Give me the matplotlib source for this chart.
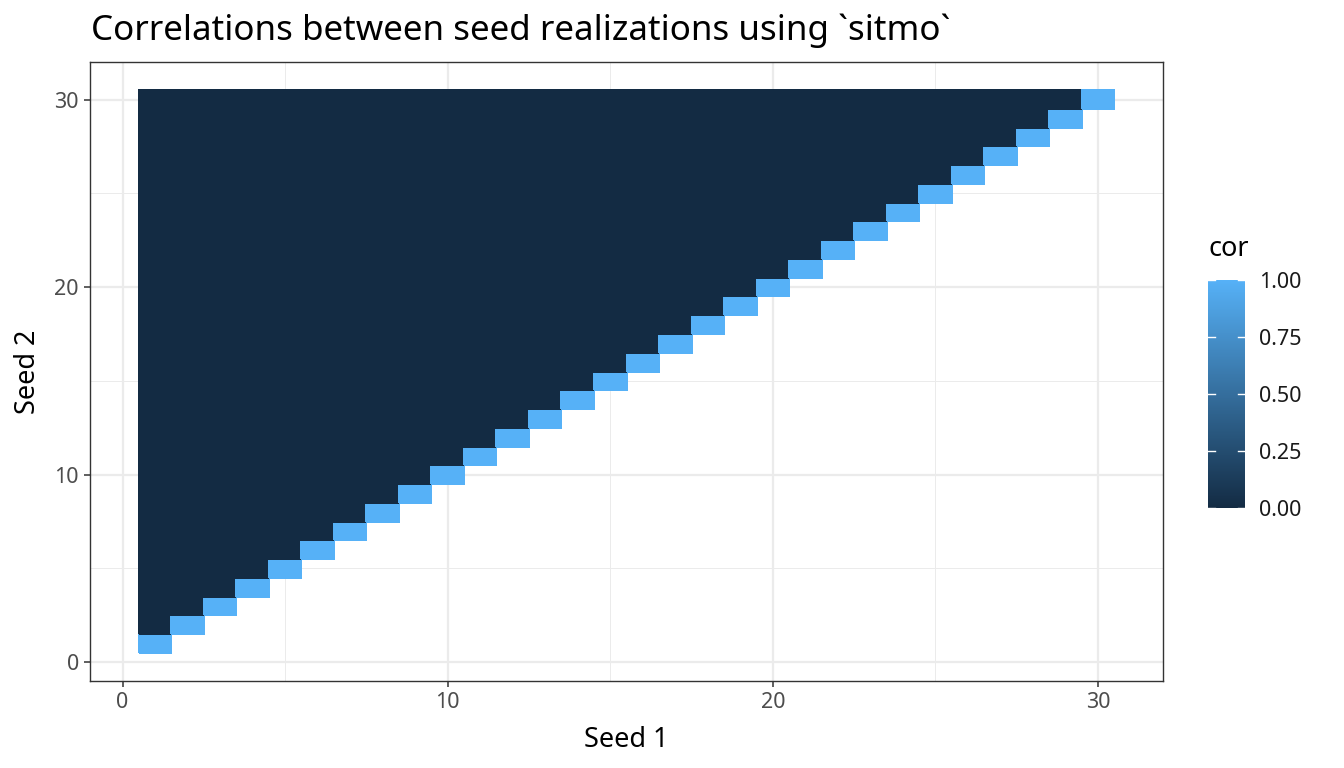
import numpy as np
import matplotlib
matplotlib.use("Agg")
import matplotlib.pyplot as plt
from matplotlib.colors import LinearSegmentedColormap

plt.rcParams['font.family'] = ['Noto Sans', 'DejaVu Sans']

# Data
seeds = list(range(1, 31))
diag_cor = 1.0        # correlation of a seed with itself
off_diag_cor = 0.0    # correlations between distinct seeds (all ~0)
title = "Correlations between seed realizations using `sitmo`"
x_ticks = [0, 10, 20, 30]
y_ticks = [0, 10, 20, 30]
cbar_ticks = [0.0, 0.25, 0.5, 0.75, 1.0]
cbar_labels = ["0.00", "0.25", "0.50", "0.75", "1.00"]

n = len(seeds)
mat = np.full((n, n), np.nan)
for i, s1 in enumerate(seeds):
    for j, s2 in enumerate(seeds):
        if s2 > s1:
            mat[j, i] = off_diag_cor
        elif s2 == s1:
            mat[j, i] = diag_cor
mat = np.ma.masked_invalid(mat)

W, H = 1344, 768
fig = plt.figure(figsize=(W/100, H/100), dpi=100)

def px(l, t, r, b):
    return [l/W, 1 - b/H, (r-l)/W, (b-t)/H]

ax = fig.add_axes(px(90, 62, 1163, 681))
cmap = LinearSegmentedColormap.from_list("gg", ["#132B43", "#56B1F7"])

# grid
for v in [5, 15, 25]:
    ax.axvline(v, color="#EBEBEB", lw=0.7, zorder=0)
    ax.axhline(v, color="#EBEBEB", lw=0.7, zorder=0)
for v in x_ticks:
    ax.axvline(v, color="#EBEBEB", lw=1.6, zorder=0)
for v in y_ticks:
    ax.axhline(v, color="#EBEBEB", lw=1.6, zorder=0)

edges = np.arange(0.5, n + 1.0, 1.0)
mesh = ax.pcolormesh(edges, edges, mat, cmap=cmap, vmin=0, vmax=1, zorder=1,
                     edgecolors='face', linewidth=0.3, antialiased=False)

ax.set_xlim(-1.0, 32.0)
ax.set_ylim(-1.0, 32.0)
ax.set_xticks(x_ticks)
ax.set_yticks(y_ticks)
ax.tick_params(axis='both', colors='#333333', labelcolor='#4D4D4D',
               labelsize=15.5, length=4, width=1.1, pad=4)
for sp in ax.spines.values():
    sp.set_color('#333333')
    sp.set_linewidth(1.0)
ax.set_xlabel("Seed 1", fontsize=19.5, color='black', labelpad=9)
ax.set_ylabel("Seed 2", fontsize=19.5, color='black', labelpad=9)

fig.text(91/W, 1 - 31/H, title, fontsize=25.2, ha='left', va='center', color='black')

# colorbar
cax = fig.add_axes(px(1208, 280, 1245, 508))
cb = fig.colorbar(mesh, cax=cax, ticks=cbar_ticks)
cb.set_ticklabels(cbar_labels)
cb.outline.set_visible(False)
cax.tick_params(axis='y', length=0, labelsize=15.5, labelcolor='#1A1A1A', pad=10)
for t in cbar_ticks:
    cax.plot([0, 0.2], [t, t], color='white', lw=1.0, transform=cax.get_yaxis_transform())
    cax.plot([0.8, 1.0], [t, t], color='white', lw=1.0, transform=cax.get_yaxis_transform())
fig.text(1209/W, 1 - 249/H, "cor", fontsize=19.5, ha='left', va='center', color='black')

fig.savefig("out.png", dpi=100)
